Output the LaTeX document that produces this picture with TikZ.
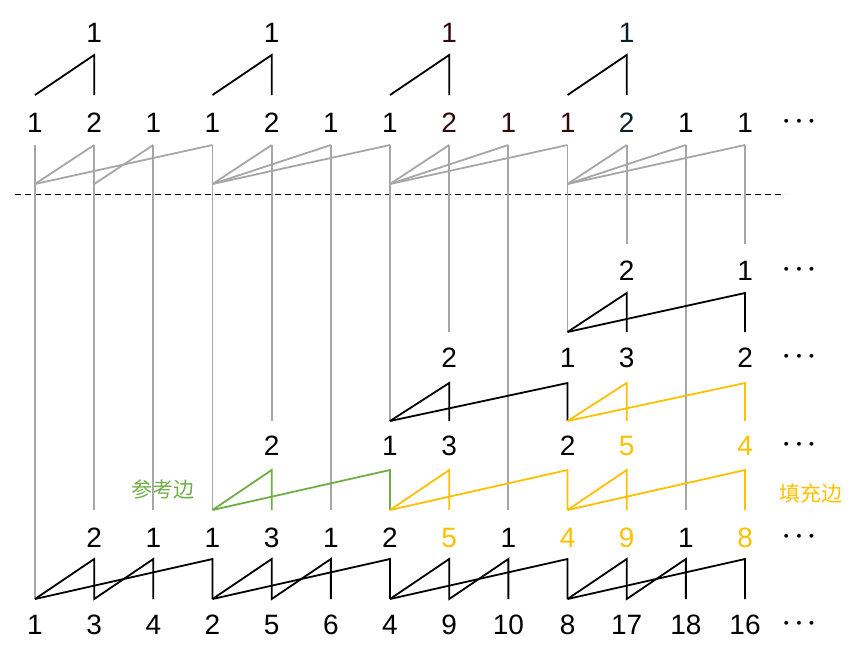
\documentclass[tikz,border=0pt]{standalone}
\usepackage{fontspec}
\setmainfont{Liberation Sans}
\newfontfamily\cjk{Noto Sans CJK SC}
\definecolor{gline}{RGB}{166,166,166}
\definecolor{refg}{RGB}{112,173,71}
\definecolor{fillo}{RGB}{255,192,0}
\definecolor{dred}{RGB}{50,8,8}
\definecolor{dteal}{RGB}{8,32,42}
\begin{document}
\begin{tikzpicture}[x=1pt,y=-1pt,
  lbl/.style={inner sep=0pt, text height=20pt, text depth=0pt, anchor=center, font=\fontsize{28}{32}\selectfont},
  dotsl/.style={inner sep=0pt, anchor=center, font=\fontsize{26}{30}\selectfont\boldmath},
  cjkl/.style={inner sep=0pt, anchor=center, font=\cjk\fontsize{21}{24}\selectfont},
  blk/.style={draw=black, line width=1.8pt, line join=miter},
  gry/.style={draw=gline, line width=1.8pt},
  grn/.style={draw=refg, line width=1.8pt},
  org/.style={draw=fillo, line width=1.8pt},
  sep/.style={draw=black, line width=0.8pt, dash pattern=on 6pt off 4pt}]
\useasboundingbox (0,0) rectangle (858,662);
% column coordinates and vertex levels
\foreach \i in {0,...,12}{
  \pgfmathsetmacro\xx{35+59.17*\i}
  \coordinate (x\i) at (\xx,0);
  \foreach \lv/\yy in {At/55,Ab/95,Bt/145,Bb/184,Ce/244,Ct/293,Cb/332,Dt/383,Db/421,Et/470,Eb/510,Ft/559,Fb/599}{
    \coordinate (\lv\i) at (\xx,\yy);
  }
}
% row A labels
\node[lbl] (A1) at (x1 |- 0,32) {1};
\node[lbl] (A4) at (x4 |- 0,32) {1};
\node[lbl,text=dred] (A7) at (x7 |- 0,32) {1};
\node[lbl,text=dteal] (A10) at (x10 |- 0,32) {1};
% row B labels
\foreach \v/\c [count=\i from 0] in {1/black,2/black,1/black,1/black,2/black,1/black,1/black,2/dred,1/dred,1/dred,2/dteal,1/black,1/black}{
  \node[lbl,text=\c] (B\i) at (x\i |- 0,122) {\v};
}
% row C
\node[lbl] (C10) at (x10 |- 0,270) {2};
\node[lbl] (C12) at (x12 |- 0,270) {1};
% row D
\node[lbl] (D7) at (x7 |- 0,357) {2};
\node[lbl] (D9) at (x9 |- 0,357) {1};
\node[lbl] (D10) at (x10 |- 0,357) {3};
\node[lbl] (D12) at (x12 |- 0,357) {2};
% row E
\node[lbl] (E4) at (x4 |- 0,445) {2};
\node[lbl] (E6) at (x6 |- 0,445) {1};
\node[lbl] (E7) at (x7 |- 0,445) {3};
\node[lbl] (E9) at (x9 |- 0,445) {2};
\node[lbl,text=fillo] (E10) at (x10 |- 0,445) {5};
\node[lbl,text=fillo] (E12) at (x12 |- 0,445) {4};
% row F
\foreach \i/\v/\c in {1/2/black,2/1/black,3/1/black,4/3/black,5/1/black,6/2/black,7/5/fillo,8/1/black,9/4/fillo,10/9/fillo,11/1/black,12/8/fillo}{
  \node[lbl,text=\c] (F\i) at (x\i |- 0,537) {\v};
}
% row G
\foreach \v [count=\i from 0] in {1,3,4,2,5,6,4,9,10,8,17,18,16}{
  \node[lbl] (G\i) at (x\i |- 0,624) {\v};
}
% dots
\foreach \r/\yy in {B/122,C/270,D/357,E/445,F/537,G/624}{
  \node[dotsl] (dots\r) at (799,\yy) {$\cdots$};
}
% legend texts
\node[cjkl,text=refg] (refl) at (163,489) {参考边};
\node[cjkl,text=fillo] (filll) at (811,493) {填充边};
% separator
\coordinate (sepL) at (15,194);
\coordinate (sepR) at (785,194);
\draw[sep] (sepL) -- (sepR);
% gray verticals
\draw[gry] (Bt0) -- (Fb0);
\foreach \i in {1,2,3,5,8,11}{ \draw[gry] (Bt\i) -- (Eb\i); }
\draw[gry] (Bt4) -- (Db4);
\draw[gry] (Bt6) -- (Db6);
\draw[gry] (Bt7) -- (Cb7);
\draw[gry] (Bt9) -- (Cb9);
\draw[gry] (Bt10) -- (Ce10);
\draw[gry] (Bt12) -- (Ce12);
% gray slants row B
\draw[gry] (Bb0) -- (Bt1);
\draw[gry] (Bb0) -- (Bt3);
\draw[gry] (Bb1) -- (Bt2);
\foreach \r/\a/\b/\c in {3/4/5/6,6/7/8/9,9/10/11/12}{
  \draw[gry] (Bb\r) -- (Bt\a);
  \draw[gry] (Bb\r) -- (Bt\b);
  \draw[gry] (Bb\r) -- (Bt\c);
}
% top triangles
\foreach \g/\h in {0/1,3/4,6/7,9/10}{
  \draw[blk] (Ab\g) -- (At\h) -- (Ab\h);
}
% row C
\draw[blk] (Cb9) -- (Ct10) -- (Cb10);
\draw[blk] (Cb9) -- (Ct12) -- (Cb12);
% row D
\draw[blk] (Db6) -- (Dt7) -- (Db7);
\draw[blk] (Db6) -- (Dt9) -- (Db9);
\draw[org] (Db9) -- (Dt10) -- (Db10);
\draw[org] (Db9) -- (Dt12) -- (Db12);
% row E
\draw[grn] (Eb3) -- (Et4) -- (Eb4);
\draw[grn] (Eb3) -- (Et6) -- (Eb6);
\draw[org] (Eb6) -- (Et7) -- (Eb7);
\draw[org] (Eb6) -- (Et9) -- (Eb9);
\draw[org] (Eb9) -- (Et10) -- (Eb10);
\draw[org] (Eb9) -- (Et12) -- (Eb12);
% row F
\foreach \r/\a/\b/\c in {0/1/2/3,3/4/5/6,6/7/8/9,9/10/11/12}{
  \draw[blk] (Fb\r) -- (Ft\a) -- (Fb\a) -- (Ft\b) -- (Fb\b);
  \draw[blk] (Fb\r) -- (Ft\c) -- (Fb\c);
}
\end{tikzpicture}
\end{document}
